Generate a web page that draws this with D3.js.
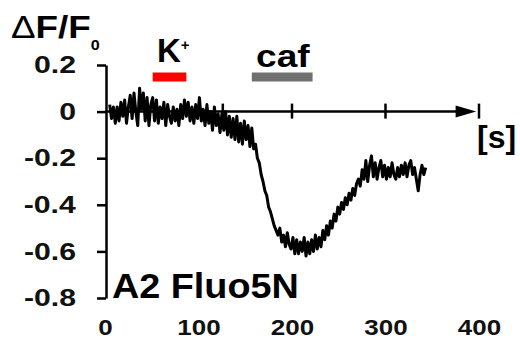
<!DOCTYPE html>
<html>
<head>
<meta charset="utf-8">
<script src="https://cdn.jsdelivr.net/npm/d3@7"></script>
<style>
  body { margin: 0; background: #fff; }
  svg { display: block; font-family: "Liberation Sans", Arial, sans-serif; }
</style>
</head>
<body>
<svg id="chart" width="520" height="338"></svg>
<script>
// trace: one sample every 2 s, starting at 5 s
const T_START = 5;
const T_STEP = 2;
const dff = [
  0.03, -0.03, 0.02, -0.05, 0.02, -0.04, 0.04, -0.02, 0.05, -0.05,
  0.02, 0.07, -0.03, 0.08, 0.00, -0.06, 0.10, 0.01, 0.08, -0.04,
  0.06, -0.06, 0.03, 0.06, -0.04, 0.05, -0.05, 0.02, -0.03, 0.04,
  -0.06, 0.03, -0.02, -0.05, 0.02, -0.04, 0.01, -0.06, 0.03, -0.03,
  0.05, -0.02, 0.04, -0.04, 0.02, -0.05, 0.03, -0.03, 0.06, -0.04,
  0.01, -0.06, 0.03, -0.05, 0.00, -0.08, 0.02, -0.06, -0.01, -0.09,
  -0.01, -0.08, 0.00, -0.10, -0.02, -0.11, -0.03, -0.12, -0.02, -0.13,
  -0.05, -0.14, -0.04, -0.12, -0.06, -0.15, -0.07, -0.16, -0.14, -0.20,
  -0.22, -0.27, -0.30, -0.34, -0.36, -0.41, -0.43, -0.46, -0.49, -0.51,
  -0.53, -0.50, -0.56, -0.53, -0.58, -0.52, -0.57, -0.59, -0.54, -0.61,
  -0.55, -0.61, -0.56, -0.60, -0.54, -0.62, -0.56, -0.61, -0.55, -0.60,
  -0.53, -0.59, -0.54, -0.58, -0.51, -0.55, -0.49, -0.53, -0.47, -0.50,
  -0.44, -0.47, -0.41, -0.44, -0.39, -0.42, -0.37, -0.40, -0.35, -0.38,
  -0.33, -0.36, -0.31, -0.29, -0.32, -0.25, -0.29, -0.21, -0.30, -0.23,
  -0.19, -0.28, -0.22, -0.29, -0.24, -0.21, -0.28, -0.23, -0.29, -0.24,
  -0.28, -0.22, -0.27, -0.29, -0.24, -0.28, -0.23, -0.27, -0.22, -0.28,
  -0.23, -0.21, -0.27, -0.24, -0.29, -0.34, -0.27, -0.23, -0.27, -0.24
];

const yTicks = [0.2, 0, -0.2, -0.4, -0.6, -0.8];
const xLabels = [0, 100, 200, 300, 400];
const arrowTicks = [126, 200, 300];

const stimLabels = ['K', 'caf'];
const stimStart = [51, 157];
const stimEnd = [87, 222];
const stimColors = ['#ff0000', '#707070'];

function translate(x, y) {
  return `translate(${x}, ${y})`;
}

const svg = d3.select('#chart');

const x = d3.scaleLinear().domain([0, 400]).range([105, 479]);
const y = d3.scaleLinear().domain([-0.8, 0.2]).range([298, 65]);

// y axis with ticks pointing left
const yAxis = svg.append('g')
  .attr('transform', translate(106, 0))
  .call(d3.axisLeft(y)
    .tickValues(yTicks)
    .tickSize(9)
    .tickSizeOuter(0)
    .tickPadding(21)
    .tickFormat(d => d === 0 ? '0' : d.toFixed(1)));

yAxis.select('.domain').attr('stroke', '#000').attr('stroke-width', 2.5);
yAxis.selectAll('.tick line').attr('stroke', '#000').attr('stroke-width', 2.5);
yAxis.selectAll('.tick text')
  .attr('fill', '#111')
  .style('font-size', '24px')
  .style('font-weight', 'bold')
  .style('transform-box', 'fill-box')
  .style('transform-origin', '100% 50%')
  .style('transform', 'scaleX(1.26)');

// bottom labels only (no line)
const xAxis = svg.append('g')
  .attr('transform', translate(0, 319))
  .call(d3.axisBottom(x).tickValues(xLabels).tickSize(0).tickPadding(0));

xAxis.select('.domain').remove();
xAxis.selectAll('.tick text')
  .attr('fill', '#111')
  .attr('dy', '0.72em')
  .style('font-size', '22px')
  .style('font-weight', 'bold')
  .style('transform-box', 'fill-box')
  .style('transform-origin', '50% 50%')
  .style('transform', 'scaleX(1.18)');

// time arrow at zero
const y0 = y(0);
svg.append('line')
  .attr('x1', x(0)).attr('x2', x(376))
  .attr('y1', y0).attr('y2', y0)
  .attr('stroke', '#000').attr('stroke-width', 2.5);

svg.append('path')
  .attr('d', `M${x(375)},${y0 - 6}L${x(397)},${y0}L${x(375)},${y0 + 6}Z`)
  .attr('fill', '#000');

svg.selectAll('.arrow-tick')
  .data(arrowTicks.concat([400]))
  .enter().append('line')
    .attr('class', 'arrow-tick')
    .attr('x1', d => x(d)).attr('x2', d => x(d))
    .attr('y1', y0 - 8).attr('y2', y0 + 7)
    .attr('stroke', '#000').attr('stroke-width', 2.5);

// trace
const line = d3.line()
  .x((d, i) => x(T_START + i * T_STEP))
  .y(d => y(d));

svg.append('path')
  .datum(dff)
  .attr('d', line)
  .attr('fill', 'none')
  .attr('stroke', '#000')
  .attr('stroke-width', 3)
  .attr('stroke-linejoin', 'round');

// stimulus bars
svg.selectAll('.stim')
  .data(stimLabels)
  .enter().append('rect')
    .attr('class', 'stim')
    .attr('x', (d, i) => x(stimStart[i]))
    .attr('width', (d, i) => x(stimEnd[i]) - x(stimStart[i]))
    .attr('y', 72.5)
    .attr('height', 9)
    .attr('fill', (d, i) => stimColors[i]);

// K+ label
const kText = svg.append('text')
  .attr('transform', translate(157, 62))
  .style('font-size', '33px')
  .style('font-weight', 'bold')
  .attr('fill', '#000');
kText.append('tspan').text(stimLabels[0]);
kText.append('tspan').attr('dy', -12).style('font-size', '15px').text('+');

// caf label
svg.append('text')
  .attr('transform', translate(256, 67) + ' scale(1.16, 1)')
  .style('font-size', '32px')
  .style('font-weight', 'bold')
  .attr('fill', '#000')
  .text(stimLabels[1]);

// y label: ΔF/F0
const yLabel = svg.append('text')
  .attr('transform', translate(11, 38) + ' scale(1.15, 1)')
  .style('font-size', '32px')
  .style('font-weight', 'bold')
  .attr('fill', '#000');
yLabel.append('tspan').style('font-weight', 'normal').text('\u0394');
yLabel.append('tspan').text('F/F');
yLabel.append('tspan')
  .attr('dy', 12)
  .style('font-size', '14px')
  .text('0');

// unit
svg.append('text')
  .attr('transform', translate(477, 148))
  .style('font-size', '32px')
  .style('font-weight', 'bold')
  .attr('fill', '#000')
  .text('[s]');

// panel label
svg.append('text')
  .attr('transform', translate(112, 298) + ' scale(1.08, 1)')
  .style('font-size', '35px')
  .style('font-weight', 'bold')
  .attr('fill', '#000')
  .text('A2 Fluo5N');
</script>
</body>
</html>
